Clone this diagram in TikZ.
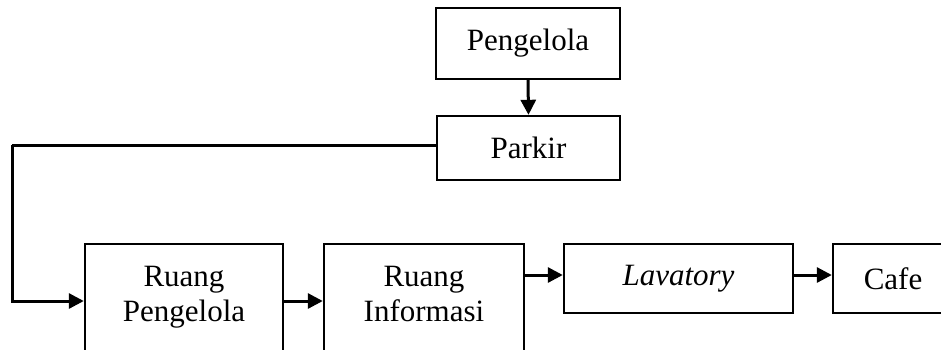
\documentclass[tikz,border=0pt]{standalone}
\usepackage{fontspec}
\setmainfont{Liberation Serif}
\usetikzlibrary{arrows.meta}
\begin{document}
\begin{tikzpicture}[x=1pt,y=-1pt,
  box/.style={draw=black,line width=2.4pt,rectangle,inner sep=0pt,
    align=center,font=\fontsize{31}{35}\selectfont},
  label/.style={align=center,font=\fontsize{31}{35}\selectfont},
  conn/.style={line width=3pt,-{Triangle[length=15pt,width=15pt]}},
  line/.style={line width=3pt}]
  \clip (0,0) rectangle (941,349);
  \fill[white] (0,0) rectangle (941,349);

  % boxes (centres and sizes in pixels of the final layout)
  \node[box,minimum width=184pt,minimum height=71pt] (peng) at (528,43.5) {Pengelola};
  \node[box,minimum width=183pt,minimum height=64pt] (park) at (528.5,148) {Parkir};
  \node[box,minimum width=198pt,minimum height=114pt] (rp) at (184,301) {};
  \node[label] (rptext) at (184,297) {Ruang\\Pengelola};
  \node[box,minimum width=200pt,minimum height=114pt] (ri) at (424,301) {};
  \node[label] (ritext) at (424,294) {Ruang\\Informasi};
  \node[box,minimum width=229pt,minimum height=69pt] (lav) at (678.5,278.5) {\itshape Lavatory};
  \node[box,minimum width=120pt,minimum height=69pt] (cafe) at (893,278.5) {Cafe};

  % connectors (yshift is in page units, so positive moves upward)
  \draw[conn] (peng.south) -- (park.north);
  \coordinate (lft) at (12,145);
  \draw[line] ([yshift=3pt]park.west) -- (lft);
  \draw[conn] (lft) |- (rp.west);
  \draw[conn] (rp.east) -- (ri.west);
  \draw[conn] ([yshift=26pt]ri.east) -- ([yshift=3.5pt]lav.west);
  \draw[conn] ([yshift=3.5pt]lav.east) -- ([yshift=3.5pt]cafe.west);
\end{tikzpicture}
\end{document}
